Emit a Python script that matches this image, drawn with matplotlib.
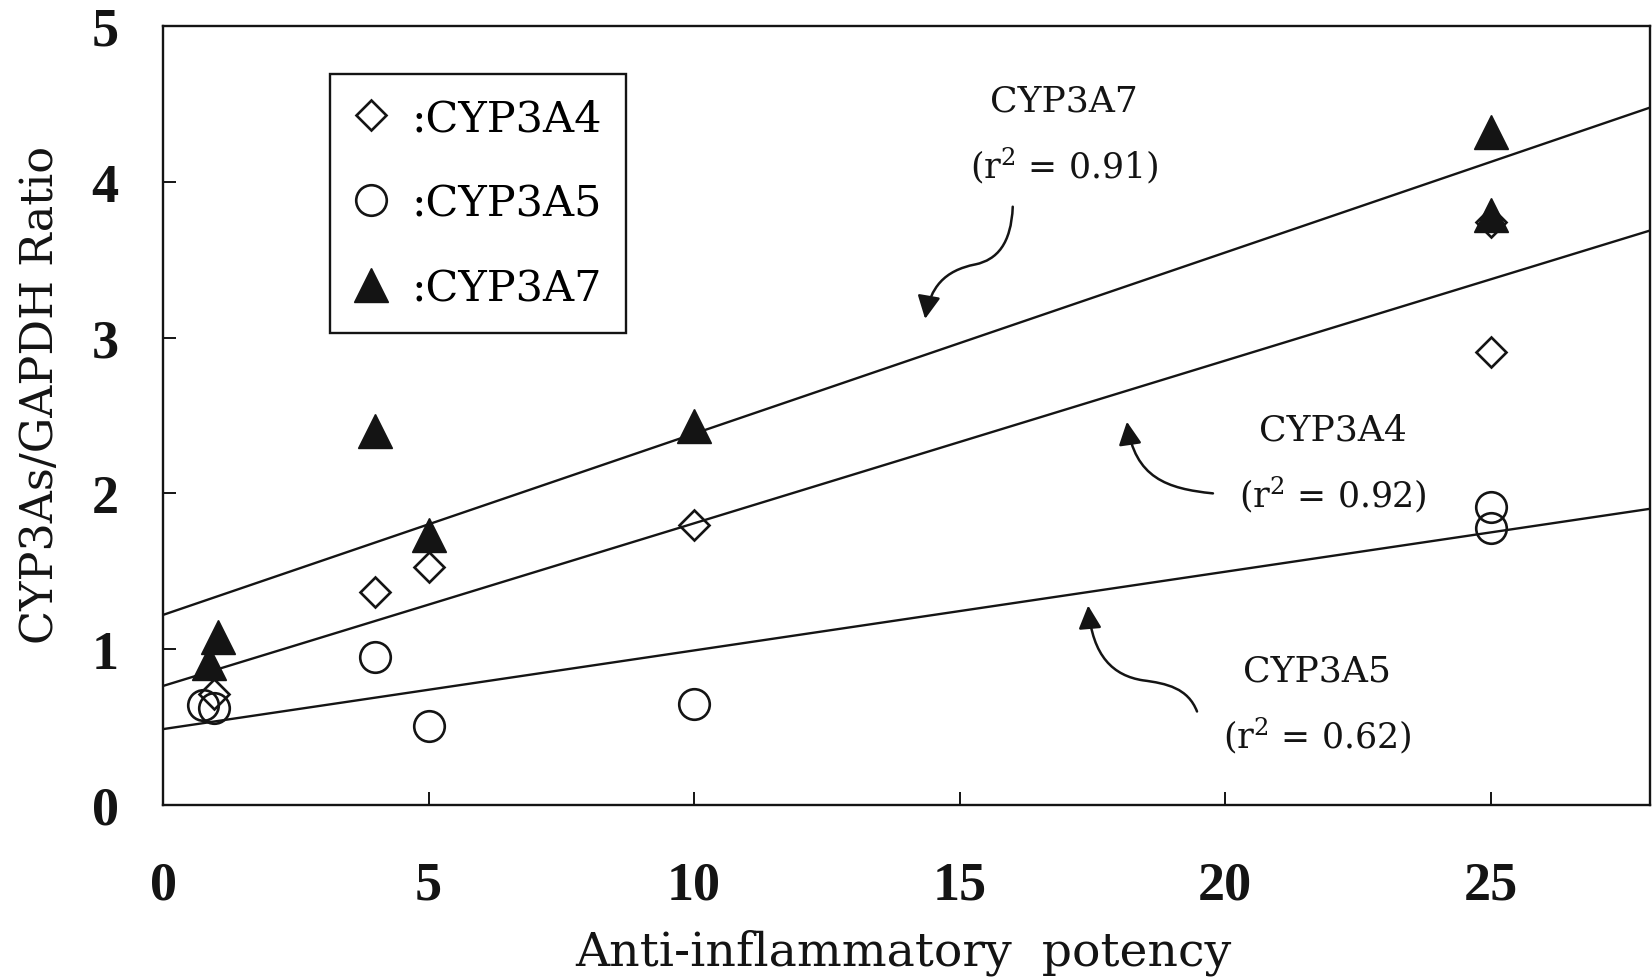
import numpy as np
import matplotlib.pyplot as plt
from matplotlib.path import Path
from matplotlib.patches import FancyArrowPatch

plt.rcParams["mathtext.fontset"] = "dejavuserif"
plt.rcParams["mathtext.default"] = "regular"

# measured ratios vs anti-inflammatory potency
x_3a4 = [0.95, 4, 5, 10, 25, 25]
y_3a4 = [0.71, 1.37, 1.53, 1.80, 2.91, 3.74]

x_3a5 = [0.75, 0.95, 4, 5, 10, 25, 25]
y_3a5 = [0.64, 0.62, 0.95, 0.51, 0.65, 1.91, 1.78]

x_3a7 = [0.87, 1.03, 4, 5, 10, 25, 25]
y_3a7 = [0.91, 1.08, 2.40, 1.73, 2.43, 4.32, 3.79]

# regression lines (intercept, slope) and r^2
fit_names = ["CYP3A7", "CYP3A4", "CYP3A5"]
fit_intercept = [1.22, 0.764, 0.487]
fit_slope = [0.1163, 0.1044, 0.0505]
fit_r2 = [0.91, 0.92, 0.62]

x_ticks = [0, 5, 10, 15, 20, 25]
y_ticks = [0, 1, 2, 3, 4, 5]

ink = "#141414"
serif = "DejaVu Serif"

fig = plt.figure(figsize=(16.52, 9.78), dpi=100)
ax = fig.add_axes([0.0987, 0.1759, 0.9001, 0.7965])

xs = np.array([0, 28])
for b, m in zip(fit_intercept, fit_slope):
    ax.plot(xs, b + m * xs, color=ink, lw=1.7, zorder=2)

ax.plot(x_3a4, y_3a4, ls="none", marker="D", ms=15.5, mfc="none",
        mec=ink, mew=1.9, label=":CYP3A4", zorder=3)
ax.plot(x_3a5, y_3a5, ls="none", marker="o", ms=22, mfc="none",
        mec=ink, mew=1.9, label=":CYP3A5", zorder=4)
ax.plot(x_3a7, y_3a7, ls="none", marker="^", ms=24, mfc=ink,
        mec=ink, mew=1.0, label=":CYP3A7", zorder=5)

# text labels for each fitted line
label_pos = {"CYP3A7": (16.97, 4.52), "CYP3A4": (22.03, 2.41), "CYP3A5": (21.73, 0.86)}
for name, r2 in zip(fit_names, fit_r2):
    tx, ty = label_pos[name]
    ax.text(tx, ty, name, ha="center", va="center", fontsize=26,
            family=serif, color=ink)
    ax.text(tx, ty - 0.41, f"(r$^2$ = {r2:.2f})", ha="center", va="center",
            fontsize=25, family=serif, color=ink)

# curved arrows from labels to lines
arrow_paths = [
    [(16.0, 3.84), (15.97, 3.6), (15.7, 3.5), (15.3, 3.47),
     (14.7, 3.43), (14.45, 3.32), (14.35, 3.12)],
    [(19.77, 2.00), (18.9, 2.03), (18.3, 2.1), (18.15, 2.46)],
    [(19.47, 0.60), (19.3, 0.75), (18.9, 0.78), (18.45, 0.80),
     (17.9, 0.83), (17.5, 0.95), (17.42, 1.28)],
]
for verts in arrow_paths:
    codes = [Path.MOVETO] + [Path.CURVE4] * (len(verts) - 1)
    arr = FancyArrowPatch(path=Path(verts, codes),
                          arrowstyle="-|>,head_length=0.7,head_width=0.35",
                          mutation_scale=20, color=ink, lw=1.8)
    ax.add_patch(arr)

ax.set_xlim(0, 28)
ax.set_ylim(0, 5)
ax.set_xticks(x_ticks)
ax.set_yticks(y_ticks)
ax.tick_params(direction="in", length=9.5, width=1.4, color=ink)
ax.tick_params(axis="x", pad=40)
ax.tick_params(axis="y", pad=32)
for lbl in ax.get_xticklabels() + ax.get_yticklabels():
    lbl.set_fontfamily("Liberation Serif")
    lbl.set_fontweight("bold")
    lbl.set_fontsize(39)
    lbl.set_color(ink)
for sp in ax.spines.values():
    sp.set_linewidth(1.7)
    sp.set_color(ink)

ax.set_xlabel("Anti-inflammatory  potency", family=serif, fontsize=34,
              color=ink, va="center")
ax.xaxis.set_label_coords(0.498, -0.1887)
ax.set_ylabel("CYP3As/GAPDH Ratio", family=serif, fontsize=32,
              color=ink, va="center")
ax.yaxis.set_label_coords(-0.0827, 0.5276)

leg = ax.legend(loc="upper left", bbox_to_anchor=(0.1123, 0.9387),
                borderaxespad=0, frameon=True, fancybox=False,
                prop={"family": serif, "size": 31},
                handlelength=0.8, handletextpad=0.55, labelspacing=1.0,
                borderpad=0.55, markerscale=1.0)
leg.get_frame().set_edgecolor(ink)
leg.get_frame().set_linewidth(1.7)
leg.get_frame().set_alpha(1)

fig.savefig("out.png", dpi=100)
